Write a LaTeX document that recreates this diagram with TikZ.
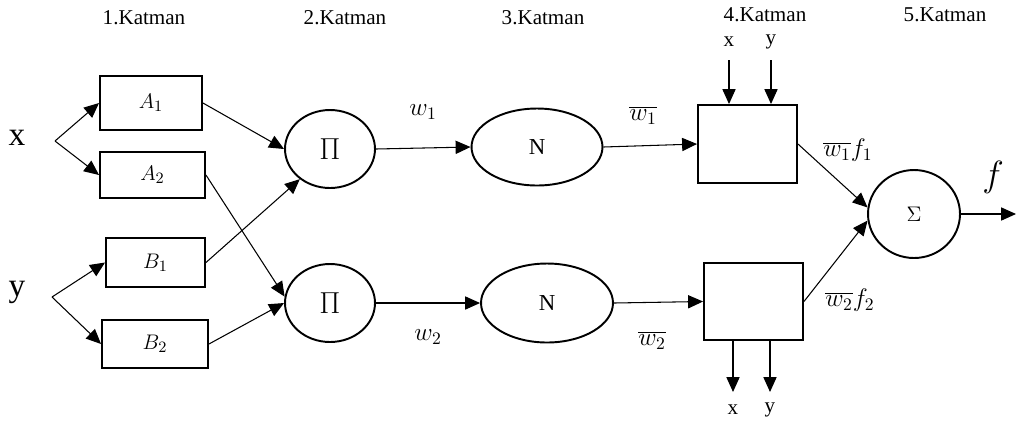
\documentclass[tikz,border=0pt]{standalone}
\usepackage{fontspec}
\setmainfont{Liberation Serif}
\usetikzlibrary{shapes.geometric,arrows.meta}
\begin{document}
\begin{tikzpicture}[x=0.02cm,y=-0.02cm,
    box/.style={draw,line width=1.1pt,rectangle,inner sep=0pt,font=\fontsize{13}{15}\selectfont},
    oval/.style={draw,line width=1.1pt,ellipse,inner sep=0pt,font=\fontsize{13}{15}\selectfont},
    lbl/.style={font=\fontsize{12}{14}\selectfont},
    mlbl/.style={font=\fontsize{14}{16}\selectfont},
    arr/.style={line width=0.6pt,-{Triangle[length=8.5pt,width=7.5pt]}}]
      \useasboundingbox (0,0) rectangle (1017,424);
      \draw
        (144,18) node[lbl] (k1){1.Katman}
        (345,18) node[lbl] (k2){2.Katman}
        (543,18) node[lbl] (k3){3.Katman}
        (765,15) node[lbl] (k4){4.Katman}
        (945,15) node[lbl] (k5){5.Katman}
        (17,138) node[font=\fontsize{19}{21}\selectfont] (x){x}
        (17,292) node[font=\fontsize{19}{21}\selectfont] (y){y}
        (151,103) node[box,minimum width=2.04cm,minimum height=1.08cm] (A1){$A_1$}
        (152.5,175) node[box,minimum width=2.1cm,minimum height=0.92cm] (A2){$A_2$}
        (155.5,262.5) node[box,minimum width=1.98cm,minimum height=0.98cm] (B1){$B_1$}
        (155,344) node[box,minimum width=2.12cm,minimum height=0.96cm] (B2){$B_2$}
        (330,149) node[oval,minimum width=1.8cm,minimum height=1.56cm,font=\fontsize{16}{18}\selectfont] (P1){$\Pi$}
        (330,303) node[oval,minimum width=1.8cm,minimum height=1.56cm,font=\fontsize{16}{18}\selectfont] (P2){$\Pi$}
        (537,147) node[oval,minimum width=2.62cm,minimum height=1.54cm] (N1){N}
        (547,303) node[oval,minimum width=2.64cm,minimum height=1.58cm] (N2){N}
        (747.5,144) node[box,minimum width=1.98cm,minimum height=1.56cm] (R1){}
        (753.5,301.5) node[box,minimum width=1.98cm,minimum height=1.54cm] (R2){}
        (914,214) node[oval,minimum width=1.84cm,minimum height=1.76cm,font=\fontsize{12}{14}\selectfont] (S){$\Sigma$}
        (729,42) node[lbl] (tx){x}
        (771,42) node[lbl] (ty){y}
        (733,410) node[lbl] (bx){x}
        (770,410) node[lbl] (by){y}
        (423,112) node[mlbl] (w1){$w_1$}
        (428,337) node[mlbl] (w2){$w_2$}
        (643,115) node[mlbl] (nw1){$\overline{w_1}$}
        (652,340) node[mlbl] (nw2){$\overline{w_2}$}
        (848,150) node[mlbl] (f1){$\overline{w_1}f_1$}
        (850,300) node[mlbl] (f2){$\overline{w_2}f_2$}
        (993,177) node[font=\fontsize{20}{22}\selectfont] (f){$f$};
      \coordinate (xs) at (55,141);
      \coordinate (ys) at (52,297);
      \coordinate (out) at (1016,214);
      \coordinate (txs) at (729,60);
      \coordinate (tys) at (771,60);
      \coordinate (bxe) at (733,392);
      \coordinate (bye) at (770,392);
      \begin{scope}[arr]
        \draw (xs) to (A1.west);
        \draw (xs) to (A2.west);
        \draw (ys) to (B1.west);
        \draw (ys) to (B2.west);
        \draw (A1.east) to (P1.west);
        \draw (B1.east) to (P1.-135);
        \draw (A2.east) to (P2.172);
        \draw (B2.east) to (P2.west);
        \draw (P1.east) to (N1.west);
        \draw (P2.east) to (N2.west);
        \draw (N1.east) to (R1.west);
        \draw (N2.east) to (R2.west);
        \draw (R1.east) to (S.172);
        \draw (R2.east) to (S.188);
        \draw (S.east) to (out);
        \draw (txs) to (txs |- R1.north);
        \draw (tys) to (tys |- R1.north);
        \draw (bxe |- R2.south) to (bxe);
        \draw (bye |- R2.south) to (bye);
      \end{scope}
    \end{tikzpicture}
\end{document}
